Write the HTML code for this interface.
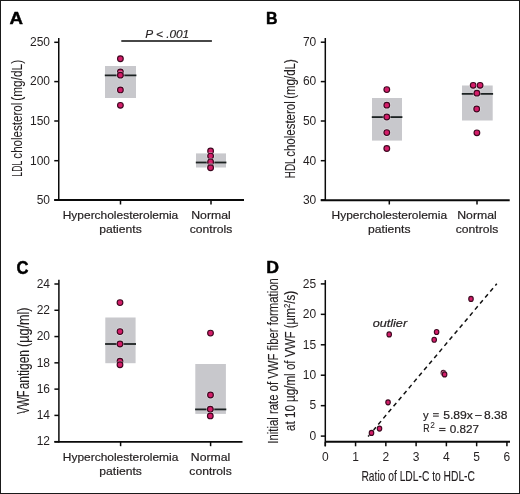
<!DOCTYPE html><html><head><meta charset="utf-8"><style>html,body{margin:0;padding:0;background:#fff;}svg{display:block;will-change:transform;}text{font-family:"Liberation Sans",sans-serif;fill:#231f20;}</style></head><body>
<svg width="520" height="494" viewBox="0 0 520 494">
<rect x="0" y="0" width="520" height="494" fill="#fff"/>
<text transform="translate(9.6,23.5) scale(1.1,0.96)" x="0" y="0" font-size="17" font-weight="bold" stroke="#000" stroke-width="0.45" stroke-linejoin="round" style="fill:#000">A</text>
<line x1="58.75" y1="38" x2="58.75" y2="200.75" stroke="#0a0a0a" stroke-width="1.5" />
<line x1="54.25" y1="42.3" x2="58.75" y2="42.3" stroke="#0a0a0a" stroke-width="1.5" />
<text x="50.0" y="46" font-size="12" text-anchor="end" font-weight="normal" font-style="normal" >250</text>
<line x1="54.25" y1="81.6" x2="58.75" y2="81.6" stroke="#0a0a0a" stroke-width="1.5" />
<text x="50.0" y="85" font-size="12" text-anchor="end" font-weight="normal" font-style="normal" >200</text>
<line x1="54.25" y1="121.0" x2="58.75" y2="121.0" stroke="#0a0a0a" stroke-width="1.5" />
<text x="50.0" y="125" font-size="12" text-anchor="end" font-weight="normal" font-style="normal" >150</text>
<line x1="54.25" y1="160.7" x2="58.75" y2="160.7" stroke="#0a0a0a" stroke-width="1.5" />
<text x="50.0" y="165" font-size="12" text-anchor="end" font-weight="normal" font-style="normal" >100</text>
<line x1="54.25" y1="200" x2="58.75" y2="200" stroke="#0a0a0a" stroke-width="1.5" />
<text x="50.0" y="204" font-size="12" text-anchor="end" font-weight="normal" font-style="normal" >50</text>
<line x1="54.25" y1="200" x2="244" y2="200" stroke="#0a0a0a" stroke-width="1.9" />
<line x1="120.5" y1="200" x2="120.5" y2="204.5" stroke="#0a0a0a" stroke-width="1.5" />
<line x1="211" y1="200" x2="211" y2="204.5" stroke="#0a0a0a" stroke-width="1.5" />
<text x="120.5" y="218.9" font-size="11.5" text-anchor="middle" font-weight="normal" font-style="normal" textLength="115.5" lengthAdjust="spacingAndGlyphs" stroke="#231f20" stroke-width="0.2" >Hypercholesterolemia</text>
<text x="120.5" y="233.4" font-size="11.5" text-anchor="middle" font-weight="normal" font-style="normal" textLength="42.5" lengthAdjust="spacingAndGlyphs" stroke="#231f20" stroke-width="0.2" >patients</text>
<text x="211" y="218.9" font-size="11.5" text-anchor="middle" font-weight="normal" font-style="normal" textLength="39.5" lengthAdjust="spacingAndGlyphs" stroke="#231f20" stroke-width="0.2" >Normal</text>
<text x="211" y="233.4" font-size="11.5" text-anchor="middle" font-weight="normal" font-style="normal" textLength="42.5" lengthAdjust="spacingAndGlyphs" stroke="#231f20" stroke-width="0.2" >controls</text>
<text transform="translate(21.8,168.75) rotate(-90)" x="0" y="0" font-size="14.6" text-anchor="middle" textLength="15.9" lengthAdjust="spacingAndGlyphs" stroke="#231f20" stroke-width="0.08">LDL</text>
<text transform="translate(21.8,130.65) rotate(-90)" x="0" y="0" font-size="14.6" text-anchor="middle" textLength="56.04" lengthAdjust="spacingAndGlyphs" stroke="#231f20" stroke-width="0.08">cholesterol</text>
<text transform="translate(21.8,80.3) rotate(-90)" x="0" y="0" font-size="14.6" text-anchor="middle" textLength="40.75" lengthAdjust="spacingAndGlyphs" stroke="#231f20" stroke-width="0.08">(mg/dL)</text>
<rect x="105" y="66" width="31" height="32" fill="#c8c8cc"/>
<line x1="104.8" y1="75.3" x2="136.4" y2="75.3" stroke="#1c2222" stroke-width="1.8" />
<ellipse cx="120.4" cy="58.7" rx="4.15" ry="4.15" fill="#fff" opacity="0.45"/>
<ellipse cx="120.4" cy="58.7" rx="2.85" ry="2.85" fill="#d41d69" stroke="#3e0820" stroke-width="1.15"/>
<ellipse cx="120.4" cy="71.9" rx="4.15" ry="4.15" fill="#fff" opacity="0.45"/>
<ellipse cx="120.4" cy="71.9" rx="2.85" ry="2.85" fill="#d41d69" stroke="#3e0820" stroke-width="1.15"/>
<ellipse cx="120.4" cy="75.2" rx="4.15" ry="4.15" fill="#fff" opacity="0.45"/>
<ellipse cx="120.4" cy="75.2" rx="2.85" ry="2.85" fill="#d41d69" stroke="#3e0820" stroke-width="1.15"/>
<ellipse cx="120.4" cy="89.9" rx="4.15" ry="4.15" fill="#fff" opacity="0.45"/>
<ellipse cx="120.4" cy="89.9" rx="2.85" ry="2.85" fill="#d41d69" stroke="#3e0820" stroke-width="1.15"/>
<ellipse cx="120.4" cy="105.3" rx="4.15" ry="4.15" fill="#fff" opacity="0.45"/>
<ellipse cx="120.4" cy="105.3" rx="2.85" ry="2.85" fill="#d41d69" stroke="#3e0820" stroke-width="1.15"/>
<rect x="196" y="153.4" width="30" height="14.1" fill="#c8c8cc"/>
<line x1="195.8" y1="162.5" x2="226.4" y2="162.5" stroke="#1c2222" stroke-width="1.8" />
<ellipse cx="210.6" cy="151.0" rx="4.15" ry="4.15" fill="#fff" opacity="0.45"/>
<ellipse cx="210.6" cy="151.0" rx="2.85" ry="2.85" fill="#d41d69" stroke="#3e0820" stroke-width="1.15"/>
<ellipse cx="210.6" cy="156.1" rx="4.15" ry="4.15" fill="#fff" opacity="0.45"/>
<ellipse cx="210.6" cy="156.1" rx="2.85" ry="2.85" fill="#d41d69" stroke="#3e0820" stroke-width="1.15"/>
<ellipse cx="210.6" cy="161.9" rx="4.15" ry="4.15" fill="#fff" opacity="0.45"/>
<ellipse cx="210.6" cy="161.9" rx="2.85" ry="2.85" fill="#d41d69" stroke="#3e0820" stroke-width="1.15"/>
<ellipse cx="210.6" cy="167.0" rx="4.15" ry="4.15" fill="#fff" opacity="0.45"/>
<ellipse cx="210.6" cy="167.0" rx="2.85" ry="2.85" fill="#d41d69" stroke="#3e0820" stroke-width="1.15"/>
<ellipse cx="210.6" cy="167.8" rx="4.15" ry="4.15" fill="#fff" opacity="0.45"/>
<ellipse cx="210.6" cy="167.8" rx="2.85" ry="2.85" fill="#d41d69" stroke="#3e0820" stroke-width="1.15"/>
<line x1="121.3" y1="40.9" x2="211.9" y2="40.9" stroke="#0a0a0a" stroke-width="1.5" />
<text x="167.2" y="38.3" font-size="11.5" text-anchor="middle" font-weight="normal" font-style="italic" textLength="44" lengthAdjust="spacingAndGlyphs" stroke="#231f20" stroke-width="0.15" >P &lt; .001</text>
<text transform="translate(266.1,23.5) scale(0.94,0.96)" x="0" y="0" font-size="17" font-weight="bold" stroke="#000" stroke-width="0.45" stroke-linejoin="round" style="fill:#000">B</text>
<line x1="325.3" y1="38" x2="325.3" y2="200.75" stroke="#0a0a0a" stroke-width="1.5" />
<line x1="320.8" y1="42.2" x2="325.3" y2="42.2" stroke="#0a0a0a" stroke-width="1.5" />
<text x="316.3" y="46" font-size="12" text-anchor="end" font-weight="normal" font-style="normal" >70</text>
<line x1="320.8" y1="81.6" x2="325.3" y2="81.6" stroke="#0a0a0a" stroke-width="1.5" />
<text x="316.3" y="85" font-size="12" text-anchor="end" font-weight="normal" font-style="normal" >60</text>
<line x1="320.8" y1="121.0" x2="325.3" y2="121.0" stroke="#0a0a0a" stroke-width="1.5" />
<text x="316.3" y="125" font-size="12" text-anchor="end" font-weight="normal" font-style="normal" >50</text>
<line x1="320.8" y1="160.7" x2="325.3" y2="160.7" stroke="#0a0a0a" stroke-width="1.5" />
<text x="316.3" y="165" font-size="12" text-anchor="end" font-weight="normal" font-style="normal" >40</text>
<line x1="320.8" y1="200" x2="325.3" y2="200" stroke="#0a0a0a" stroke-width="1.5" />
<text x="316.3" y="204" font-size="12" text-anchor="end" font-weight="normal" font-style="normal" >30</text>
<line x1="320.8" y1="200.25" x2="509.7" y2="200.25" stroke="#0a0a0a" stroke-width="1.9" />
<line x1="389.3" y1="200" x2="389.3" y2="204.5" stroke="#0a0a0a" stroke-width="1.5" />
<line x1="477" y1="200" x2="477" y2="204.5" stroke="#0a0a0a" stroke-width="1.5" />
<text x="389.3" y="218.9" font-size="11.5" text-anchor="middle" font-weight="normal" font-style="normal" textLength="115.5" lengthAdjust="spacingAndGlyphs" stroke="#231f20" stroke-width="0.2" >Hypercholesterolemia</text>
<text x="389.3" y="233.4" font-size="11.5" text-anchor="middle" font-weight="normal" font-style="normal" textLength="42.5" lengthAdjust="spacingAndGlyphs" stroke="#231f20" stroke-width="0.2" >patients</text>
<text x="477" y="218.9" font-size="11.5" text-anchor="middle" font-weight="normal" font-style="normal" textLength="39.5" lengthAdjust="spacingAndGlyphs" stroke="#231f20" stroke-width="0.2" >Normal</text>
<text x="477" y="233.4" font-size="11.5" text-anchor="middle" font-weight="normal" font-style="normal" textLength="42.5" lengthAdjust="spacingAndGlyphs" stroke="#231f20" stroke-width="0.2" >controls</text>
<text transform="translate(295.0,168.3) rotate(-90)" x="0" y="0" font-size="14.6" text-anchor="middle" textLength="19.74" lengthAdjust="spacingAndGlyphs" stroke="#231f20" stroke-width="0.08">HDL</text>
<text transform="translate(295.0,129.0) rotate(-90)" x="0" y="0" font-size="14.6" text-anchor="middle" textLength="55.52" lengthAdjust="spacingAndGlyphs" stroke="#231f20" stroke-width="0.08">cholesterol</text>
<text transform="translate(295.0,79.0) rotate(-90)" x="0" y="0" font-size="14.6" text-anchor="middle" textLength="39.71" lengthAdjust="spacingAndGlyphs" stroke="#231f20" stroke-width="0.08">(mg/dL)</text>
<rect x="372" y="98" width="30" height="42.6" fill="#c8c8cc"/>
<line x1="371.8" y1="117.1" x2="402.4" y2="117.1" stroke="#1c2222" stroke-width="1.8" />
<ellipse cx="386.8" cy="89.6" rx="4.15" ry="4.15" fill="#fff" opacity="0.45"/>
<ellipse cx="386.8" cy="89.6" rx="2.85" ry="2.85" fill="#d41d69" stroke="#3e0820" stroke-width="1.15"/>
<ellipse cx="386.8" cy="105.2" rx="4.15" ry="4.15" fill="#fff" opacity="0.45"/>
<ellipse cx="386.8" cy="105.2" rx="2.85" ry="2.85" fill="#d41d69" stroke="#3e0820" stroke-width="1.15"/>
<ellipse cx="386.8" cy="117" rx="4.15" ry="4.15" fill="#fff" opacity="0.45"/>
<ellipse cx="386.8" cy="117" rx="2.85" ry="2.85" fill="#d41d69" stroke="#3e0820" stroke-width="1.15"/>
<ellipse cx="386.8" cy="132.6" rx="4.15" ry="4.15" fill="#fff" opacity="0.45"/>
<ellipse cx="386.8" cy="132.6" rx="2.85" ry="2.85" fill="#d41d69" stroke="#3e0820" stroke-width="1.15"/>
<ellipse cx="386.8" cy="148.5" rx="4.15" ry="4.15" fill="#fff" opacity="0.45"/>
<ellipse cx="386.8" cy="148.5" rx="2.85" ry="2.85" fill="#d41d69" stroke="#3e0820" stroke-width="1.15"/>
<rect x="462" y="85.5" width="30.7" height="35.0" fill="#c8c8cc"/>
<line x1="461.8" y1="93.9" x2="493.09999999999997" y2="93.9" stroke="#1c2222" stroke-width="1.8" />
<ellipse cx="473.2" cy="85.3" rx="4.15" ry="4.15" fill="#fff" opacity="0.45"/>
<ellipse cx="473.2" cy="85.3" rx="2.85" ry="2.85" fill="#d41d69" stroke="#3e0820" stroke-width="1.15"/>
<ellipse cx="480.1" cy="85.3" rx="4.15" ry="4.15" fill="#fff" opacity="0.45"/>
<ellipse cx="480.1" cy="85.3" rx="2.85" ry="2.85" fill="#d41d69" stroke="#3e0820" stroke-width="1.15"/>
<ellipse cx="476.9" cy="93.2" rx="4.15" ry="4.15" fill="#fff" opacity="0.45"/>
<ellipse cx="476.9" cy="93.2" rx="2.85" ry="2.85" fill="#d41d69" stroke="#3e0820" stroke-width="1.15"/>
<ellipse cx="476.7" cy="109" rx="4.15" ry="4.15" fill="#fff" opacity="0.45"/>
<ellipse cx="476.7" cy="109" rx="2.85" ry="2.85" fill="#d41d69" stroke="#3e0820" stroke-width="1.15"/>
<ellipse cx="476.9" cy="132.8" rx="4.15" ry="4.15" fill="#fff" opacity="0.45"/>
<ellipse cx="476.9" cy="132.8" rx="2.85" ry="2.85" fill="#d41d69" stroke="#3e0820" stroke-width="1.15"/>
<text transform="translate(16.45,273.6) scale(0.98,1.1)" x="0" y="0" font-size="17" font-weight="bold" stroke="#000" stroke-width="0.45" stroke-linejoin="round" style="fill:#000">C</text>
<line x1="58.9" y1="279.8" x2="58.9" y2="442.45" stroke="#0a0a0a" stroke-width="1.5" />
<line x1="54.4" y1="284.0" x2="58.9" y2="284.0" stroke="#0a0a0a" stroke-width="1.5" />
<text x="50.0" y="288" font-size="12" text-anchor="end" font-weight="normal" font-style="normal" >24</text>
<line x1="54.4" y1="310.28" x2="58.9" y2="310.28" stroke="#0a0a0a" stroke-width="1.5" />
<text x="50.0" y="314" font-size="12" text-anchor="end" font-weight="normal" font-style="normal" >22</text>
<line x1="54.4" y1="336.56" x2="58.9" y2="336.56" stroke="#0a0a0a" stroke-width="1.5" />
<text x="50.0" y="340" font-size="12" text-anchor="end" font-weight="normal" font-style="normal" >20</text>
<line x1="54.4" y1="362.84000000000003" x2="58.9" y2="362.84000000000003" stroke="#0a0a0a" stroke-width="1.5" />
<text x="50.0" y="367" font-size="12" text-anchor="end" font-weight="normal" font-style="normal" >18</text>
<line x1="54.4" y1="389.12" x2="58.9" y2="389.12" stroke="#0a0a0a" stroke-width="1.5" />
<text x="50.0" y="393" font-size="12" text-anchor="end" font-weight="normal" font-style="normal" >16</text>
<line x1="54.4" y1="415.4" x2="58.9" y2="415.4" stroke="#0a0a0a" stroke-width="1.5" />
<text x="50.0" y="419" font-size="12" text-anchor="end" font-weight="normal" font-style="normal" >14</text>
<line x1="54.4" y1="441.68" x2="58.9" y2="441.68" stroke="#0a0a0a" stroke-width="1.5" />
<text x="50.0" y="445" font-size="12" text-anchor="end" font-weight="normal" font-style="normal" >12</text>
<line x1="54.4" y1="441.9" x2="242.5" y2="441.9" stroke="#0a0a0a" stroke-width="1.9" />
<line x1="120.6" y1="441.7" x2="120.6" y2="446.2" stroke="#0a0a0a" stroke-width="1.5" />
<line x1="210.6" y1="441.7" x2="210.6" y2="446.2" stroke="#0a0a0a" stroke-width="1.5" />
<text x="120.6" y="460.59999999999997" font-size="11.5" text-anchor="middle" font-weight="normal" font-style="normal" textLength="115.5" lengthAdjust="spacingAndGlyphs" stroke="#231f20" stroke-width="0.2" >Hypercholesterolemia</text>
<text x="120.6" y="475.09999999999997" font-size="11.5" text-anchor="middle" font-weight="normal" font-style="normal" textLength="42.5" lengthAdjust="spacingAndGlyphs" stroke="#231f20" stroke-width="0.2" >patients</text>
<text x="210.6" y="460.59999999999997" font-size="11.5" text-anchor="middle" font-weight="normal" font-style="normal" textLength="39.5" lengthAdjust="spacingAndGlyphs" stroke="#231f20" stroke-width="0.2" >Normal</text>
<text x="210.6" y="475.09999999999997" font-size="11.5" text-anchor="middle" font-weight="normal" font-style="normal" textLength="42.5" lengthAdjust="spacingAndGlyphs" stroke="#231f20" stroke-width="0.2" >controls</text>
<text transform="translate(29.0,402.2) rotate(-90)" x="0" y="0" font-size="15.6" text-anchor="middle" textLength="23.49" lengthAdjust="spacingAndGlyphs" stroke="#231f20" stroke-width="0.08">VWF</text>
<text transform="translate(29.0,369.65) rotate(-90)" x="0" y="0" font-size="15.6" text-anchor="middle" textLength="39.4" lengthAdjust="spacingAndGlyphs" stroke="#231f20" stroke-width="0.08">antigen</text>
<text transform="translate(29.0,327.3) rotate(-90)" x="0" y="0" font-size="15.6" text-anchor="middle" textLength="39.3" lengthAdjust="spacingAndGlyphs" stroke="#231f20" stroke-width="0.08">(µg/ml)</text>
<rect x="105.3" y="317.5" width="30.3" height="45.7" fill="#c8c8cc"/>
<line x1="105.1" y1="344" x2="136.0" y2="344" stroke="#1c2222" stroke-width="1.8" />
<ellipse cx="120" cy="302.6" rx="4.15" ry="4.15" fill="#fff" opacity="0.45"/>
<ellipse cx="120" cy="302.6" rx="2.85" ry="2.85" fill="#d41d69" stroke="#3e0820" stroke-width="1.15"/>
<ellipse cx="120" cy="331.6" rx="4.15" ry="4.15" fill="#fff" opacity="0.45"/>
<ellipse cx="120" cy="331.6" rx="2.85" ry="2.85" fill="#d41d69" stroke="#3e0820" stroke-width="1.15"/>
<ellipse cx="120" cy="344" rx="4.15" ry="4.15" fill="#fff" opacity="0.45"/>
<ellipse cx="120" cy="344" rx="2.85" ry="2.85" fill="#d41d69" stroke="#3e0820" stroke-width="1.15"/>
<ellipse cx="120" cy="361.2" rx="4.15" ry="4.15" fill="#fff" opacity="0.45"/>
<ellipse cx="120" cy="361.2" rx="2.85" ry="2.85" fill="#d41d69" stroke="#3e0820" stroke-width="1.15"/>
<ellipse cx="120" cy="364.8" rx="4.15" ry="4.15" fill="#fff" opacity="0.45"/>
<ellipse cx="120" cy="364.8" rx="2.85" ry="2.85" fill="#d41d69" stroke="#3e0820" stroke-width="1.15"/>
<rect x="195.3" y="364" width="30.6" height="49.9" fill="#c8c8cc"/>
<line x1="195.10000000000002" y1="409.4" x2="226.3" y2="409.4" stroke="#1c2222" stroke-width="1.8" />
<ellipse cx="210.5" cy="333.1" rx="4.15" ry="4.15" fill="#fff" opacity="0.45"/>
<ellipse cx="210.5" cy="333.1" rx="2.85" ry="2.85" fill="#d41d69" stroke="#3e0820" stroke-width="1.15"/>
<ellipse cx="210.5" cy="395" rx="4.15" ry="4.15" fill="#fff" opacity="0.45"/>
<ellipse cx="210.5" cy="395" rx="2.85" ry="2.85" fill="#d41d69" stroke="#3e0820" stroke-width="1.15"/>
<ellipse cx="210.3" cy="409.2" rx="4.15" ry="4.15" fill="#fff" opacity="0.45"/>
<ellipse cx="210.3" cy="409.2" rx="2.85" ry="2.85" fill="#d41d69" stroke="#3e0820" stroke-width="1.15"/>
<ellipse cx="210.3" cy="415.9" rx="4.15" ry="4.15" fill="#fff" opacity="0.45"/>
<ellipse cx="210.3" cy="415.9" rx="2.85" ry="2.85" fill="#d41d69" stroke="#3e0820" stroke-width="1.15"/>
<text transform="translate(266.13,273.1) scale(1.04,0.95)" x="0" y="0" font-size="17" font-weight="bold" stroke="#000" stroke-width="0.45" stroke-linejoin="round" style="fill:#000">D</text>
<line x1="325.3" y1="280.1" x2="325.3" y2="446.3" stroke="#0a0a0a" stroke-width="1.5" />
<line x1="320.8" y1="436.1" x2="325.3" y2="436.1" stroke="#0a0a0a" stroke-width="1.5" />
<text x="316.2" y="440" font-size="12" text-anchor="end" font-weight="normal" font-style="normal" >0</text>
<line x1="320.8" y1="405.66" x2="325.3" y2="405.66" stroke="#0a0a0a" stroke-width="1.5" />
<text x="316.2" y="409" font-size="12" text-anchor="end" font-weight="normal" font-style="normal" >5</text>
<line x1="320.8" y1="375.22" x2="325.3" y2="375.22" stroke="#0a0a0a" stroke-width="1.5" />
<text x="316.2" y="379" font-size="12" text-anchor="end" font-weight="normal" font-style="normal" >10</text>
<line x1="320.8" y1="344.78000000000003" x2="325.3" y2="344.78000000000003" stroke="#0a0a0a" stroke-width="1.5" />
<text x="316.2" y="349" font-size="12" text-anchor="end" font-weight="normal" font-style="normal" >15</text>
<line x1="320.8" y1="314.34000000000003" x2="325.3" y2="314.34000000000003" stroke="#0a0a0a" stroke-width="1.5" />
<text x="316.2" y="318" font-size="12" text-anchor="end" font-weight="normal" font-style="normal" >20</text>
<line x1="320.8" y1="283.90000000000003" x2="325.3" y2="283.90000000000003" stroke="#0a0a0a" stroke-width="1.5" />
<text x="316.2" y="288" font-size="12" text-anchor="end" font-weight="normal" font-style="normal" >25</text>
<line x1="325.3" y1="441.8" x2="510" y2="441.8" stroke="#0a0a0a" stroke-width="1.9" />
<line x1="325.3" y1="441.8" x2="325.3" y2="446.3" stroke="#0a0a0a" stroke-width="1.5" />
<text x="325.3" y="461" font-size="12" text-anchor="middle" font-weight="normal" font-style="normal" >0</text>
<line x1="355.57" y1="441.8" x2="355.57" y2="446.3" stroke="#0a0a0a" stroke-width="1.5" />
<text x="355.57" y="461" font-size="12" text-anchor="middle" font-weight="normal" font-style="normal" >1</text>
<line x1="385.84000000000003" y1="441.8" x2="385.84000000000003" y2="446.3" stroke="#0a0a0a" stroke-width="1.5" />
<text x="385.84000000000003" y="461" font-size="12" text-anchor="middle" font-weight="normal" font-style="normal" >2</text>
<line x1="416.11" y1="441.8" x2="416.11" y2="446.3" stroke="#0a0a0a" stroke-width="1.5" />
<text x="416.11" y="461" font-size="12" text-anchor="middle" font-weight="normal" font-style="normal" >3</text>
<line x1="446.38" y1="441.8" x2="446.38" y2="446.3" stroke="#0a0a0a" stroke-width="1.5" />
<text x="446.38" y="461" font-size="12" text-anchor="middle" font-weight="normal" font-style="normal" >4</text>
<line x1="476.65" y1="441.8" x2="476.65" y2="446.3" stroke="#0a0a0a" stroke-width="1.5" />
<text x="476.65" y="461" font-size="12" text-anchor="middle" font-weight="normal" font-style="normal" >5</text>
<line x1="506.92" y1="441.8" x2="506.92" y2="446.3" stroke="#0a0a0a" stroke-width="1.5" />
<text x="506.92" y="461" font-size="12" text-anchor="middle" font-weight="normal" font-style="normal" >6</text>
<text x="418.2" y="480.5" font-size="14.6" text-anchor="middle" font-weight="normal" font-style="normal" textLength="113.5" lengthAdjust="spacingAndGlyphs" stroke="#231f20" stroke-width="0.12" >Ratio of LDL-C to HDL-C</text>
<text transform="translate(277.8,360.9) rotate(-90)" x="0" y="0" font-size="14.4" text-anchor="middle" textLength="165.5" lengthAdjust="spacingAndGlyphs" stroke="#231f20" stroke-width="0.12">Initial rate of VWF fiber formation</text>
<text transform="translate(295.4,360.9) rotate(-90)" x="0" y="0" font-size="14.4" text-anchor="middle" textLength="140" lengthAdjust="spacingAndGlyphs" stroke="#231f20" stroke-width="0.12">at 10 µg/ml of VWF (µm<tspan font-size="9.5" dy="-5.5">2</tspan><tspan dy="5.5">/s)</tspan></text>
<line x1="368.1" y1="436.5" x2="496.8" y2="283.7" stroke="#111" stroke-width="1.5" stroke-dasharray="4.3 3.6"/>
<ellipse cx="371.5" cy="432.9" rx="3.55" ry="3.8" fill="#fff" opacity="0.45"/>
<ellipse cx="371.5" cy="432.9" rx="2.25" ry="2.5" fill="#d41d69" stroke="#3e0820" stroke-width="1.15"/>
<ellipse cx="379.5" cy="428.6" rx="3.55" ry="3.8" fill="#fff" opacity="0.45"/>
<ellipse cx="379.5" cy="428.6" rx="2.25" ry="2.5" fill="#d41d69" stroke="#3e0820" stroke-width="1.15"/>
<ellipse cx="388.05" cy="402.3" rx="3.55" ry="3.8" fill="#fff" opacity="0.45"/>
<ellipse cx="388.05" cy="402.3" rx="2.25" ry="2.5" fill="#d41d69" stroke="#3e0820" stroke-width="1.15"/>
<ellipse cx="389.2" cy="334.4" rx="3.55" ry="3.8" fill="#fff" opacity="0.45"/>
<ellipse cx="389.2" cy="334.4" rx="2.25" ry="2.5" fill="#d41d69" stroke="#3e0820" stroke-width="1.15"/>
<ellipse cx="434.2" cy="339.7" rx="3.55" ry="3.8" fill="#fff" opacity="0.45"/>
<ellipse cx="434.2" cy="339.7" rx="2.25" ry="2.5" fill="#d41d69" stroke="#3e0820" stroke-width="1.15"/>
<ellipse cx="436.6" cy="332" rx="3.55" ry="3.8" fill="#fff" opacity="0.45"/>
<ellipse cx="436.6" cy="332" rx="2.25" ry="2.5" fill="#d41d69" stroke="#3e0820" stroke-width="1.15"/>
<ellipse cx="443.4" cy="372.9" rx="3.55" ry="3.8" fill="#fff" opacity="0.45"/>
<ellipse cx="443.4" cy="372.9" rx="2.25" ry="2.5" fill="#d41d69" stroke="#3e0820" stroke-width="1.15"/>
<ellipse cx="444.6" cy="374.4" rx="3.55" ry="3.8" fill="#fff" opacity="0.45"/>
<ellipse cx="444.6" cy="374.4" rx="2.25" ry="2.5" fill="#d41d69" stroke="#3e0820" stroke-width="1.15"/>
<ellipse cx="471" cy="298.9" rx="3.55" ry="3.8" fill="#fff" opacity="0.45"/>
<ellipse cx="471" cy="298.9" rx="2.25" ry="2.5" fill="#d41d69" stroke="#3e0820" stroke-width="1.15"/>
<text x="389.9" y="326.7" font-size="11.5" text-anchor="middle" font-weight="normal" font-style="italic" textLength="34.5" lengthAdjust="spacingAndGlyphs" stroke="#231f20" stroke-width="0.2" >outlier</text>
<text x="425.75" y="418.8" font-size="11.3" text-anchor="middle" font-weight="normal" font-style="normal" stroke="#231f20" stroke-width="0.2" >y</text>
<text x="458.05" y="418.8" font-size="11.3" text-anchor="middle" font-weight="normal" font-style="normal" textLength="29.8" lengthAdjust="spacingAndGlyphs" stroke="#231f20" stroke-width="0.2" >5.89x</text>
<text x="478.3" y="417.9" font-size="11.3" text-anchor="middle" font-weight="normal" font-style="normal" stroke="#231f20" stroke-width="0.2" >–</text>
<text x="495.8" y="418.8" font-size="11.3" text-anchor="middle" font-weight="normal" font-style="normal" textLength="23.5" lengthAdjust="spacingAndGlyphs" stroke="#231f20" stroke-width="0.2" >8.38</text>
<text x="426.48" y="432.4" font-size="11.3" text-anchor="middle" font-weight="normal" font-style="normal" textLength="6.3" lengthAdjust="spacingAndGlyphs" stroke="#231f20" stroke-width="0.2" >R</text>
<text x="464.5" y="432.5" font-size="11.3" text-anchor="middle" font-weight="normal" font-style="normal" textLength="29.3" lengthAdjust="spacingAndGlyphs" stroke="#231f20" stroke-width="0.2" >0.827</text>
<rect x="433.0" y="413.2" width="5.8" height="1.0" fill="#231f20"/>
<rect x="433.0" y="415.6" width="5.8" height="1.0" fill="#231f20"/>
<rect x="439.2" y="427.9" width="6.3" height="1.0" fill="#231f20"/>
<rect x="439.2" y="430.1" width="6.3" height="1.0" fill="#231f20"/>
<text x="432.6" y="427.9" font-size="8.3" text-anchor="middle" font-weight="normal" font-style="normal" stroke="#231f20" stroke-width="0.05" >2</text>
<rect x="0.5" y="0.5" width="519" height="493" fill="none" stroke="#1a1a1a" stroke-width="1"/>
</svg></body></html>
